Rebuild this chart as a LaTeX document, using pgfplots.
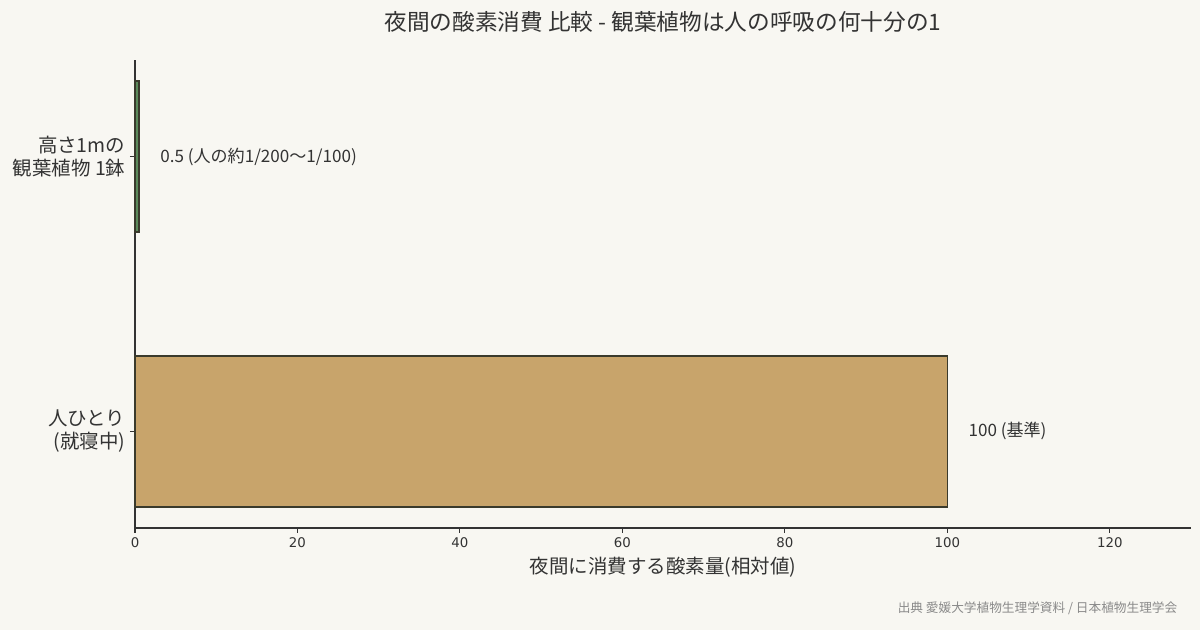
\documentclass[border=0pt]{standalone}
\usepackage{pgfplots}
\pgfplotsset{compat=1.18}
\usepackage{fontspec}
\setmainfont{Noto Sans CJK JP}
\newfontfamily\tickfont{DejaVu Sans}
\definecolor{bg}{HTML}{F8F7F2}
\definecolor{human}{HTML}{C8A46B}
\definecolor{plant}{HTML}{5B8A5B}
\definecolor{edge}{HTML}{3A3A2C}
\definecolor{ink}{HTML}{333333}
\definecolor{src}{HTML}{8A8A8A}
\begin{document}
\begin{tikzpicture}
\fill[bg] (0pt,0pt) rectangle (900pt,472.5pt);
\useasboundingbox (0pt,0pt) rectangle (900pt,472.5pt);
\begin{axis}[
    at={(101.25pt,76.5pt)}, anchor=south west,
    scale only axis,
    width=792pt, height=351pt,
    xbar, bar shift=0pt, bar width=0.55,
    xmin=0, xmax=130,
    ymin=-0.3525, ymax=1.3525,
    axis x line*=bottom, axis y line*=left,
    axis line style={ink, line width=0.8pt, -},
    xtick={0,20,...,120},
    ytick={0,1},
    yticklabels={{人ひとり\\(就寝中)},{高さ1mの\\観葉植物 1鉢}},
    yticklabel style={align=right, font=\fontsize{14.6}{17}\selectfont, text=ink},
    xticklabel style={font=\tickfont\fontsize{10}{12}\selectfont, text=ink},
    /pgf/number format/assume math mode=true,
    tick align=outside, major tick length=3.75pt,
    tick style={ink, line width=0.8pt},
    xlabel={夜間に消費する酸素量(相対値)},
    xlabel style={font=\fontsize{14.6}{17}\selectfont, text=ink, yshift=0pt},
    point meta=explicit symbolic,
    nodes near coords,
    nodes near coords style={anchor=west, xshift=12pt, font=\fontsize{12.8}{15}\selectfont, text=ink},
    clip=false,
]
\addplot[fill=human, draw=edge, line width=1.2pt] coordinates {(100,0) [100 (基準)]};
\addplot[fill=plant, draw=edge, line width=1.2pt] coordinates {(0.5,1) [0.5 (人の約1/200〜1/100)]};
\end{axis}
\node[font=\fontsize{17}{20}\selectfont, text=ink] at (497.25pt,456pt) {夜間の酸素消費 比較 - 観葉植物は人の呼吸の何十分の1};
\node[anchor=east, font=\fontsize{9.5}{11}\selectfont, text=src] at (886.5pt,16.5pt) {出典 愛媛大学植物生理学資料 / 日本植物生理学会};
\end{tikzpicture}
\end{document}
